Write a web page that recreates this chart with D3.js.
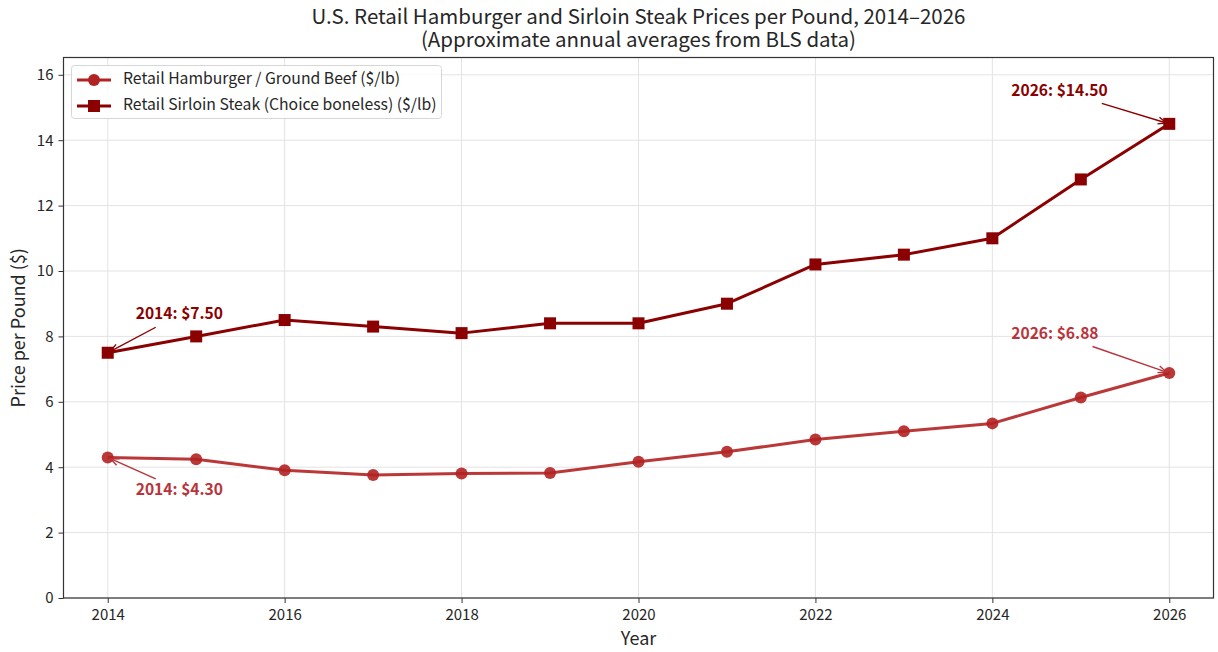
<!DOCTYPE html>
<html><head><meta charset="utf-8">
<script src="https://cdn.jsdelivr.net/npm/d3@7"></script>
<style>
body{margin:0;background:#fff;}
svg{display:block;font-family:"Noto Sans CJK JP","Noto Sans",sans-serif;}
</style></head>
<body><svg id="c" width="1218" height="652"></svg>
<script>
const years = [2014,2015,2016,2017,2018,2019,2020,2021,2022,2023,2024,2025,2026];
const hamburger = [4.30,4.24,3.91,3.76,3.81,3.82,4.17,4.47,4.85,5.10,5.34,6.13,6.88];
const sirloin = [7.50,8.00,8.50,8.30,8.10,8.40,8.40,9.00,10.20,10.50,11.00,12.80,14.50];
const xTicks = [2014,2016,2018,2020,2022,2024,2026];
const yTicks = [0,2,4,6,8,10,12,14,16];
const seriesNames = ["Retail Hamburger / Ground Beef ($/lb)","Retail Sirloin Steak (Choice boneless) ($/lb)"];
const titleLines = ["U.S. Retail Hamburger and Sirloin Steak Prices per Pound, 2014\u20132026","(Approximate annual averages from BLS data)"];
const annotations = [
  {series:1, i:0, label:"2014: $7.50", dx:28, dy:-38},
  {series:0, i:0, label:"2014: $4.30", dx:28, dy:33},
  {series:1, i:12, label:"2026: $14.50", dx:-158, dy:-32},
  {series:0, i:12, label:"2026: $6.88", dx:-158, dy:-38}
];
const colors = ["#b22222","#8b0000"];

const svg = d3.select("#c");
const L=63.5, R=1213.5, T=57.5, B=598;
const x = d3.scaleLinear().domain([2013.5,2026.5]).range([L,R]);
const y = d3.scaleLinear().domain([0,16.5]).range([B,B-16.5*32.7]);

// grid
svg.append("g").selectAll("line").data(xTicks).join("line")
  .attr("x1",d=>x(d)).attr("x2",d=>x(d)).attr("y1",T).attr("y2",B)
  .attr("stroke","#e3e3e3").attr("stroke-width",1);
svg.append("g").selectAll("line").data(yTicks).join("line")
  .attr("x1",L).attr("x2",R).attr("y1",d=>y(d)).attr("y2",d=>y(d))
  .attr("stroke","#e3e3e3").attr("stroke-width",1);

// axes
const gx = svg.append("g").attr("transform",`translate(0,${B})`)
  .call(d3.axisBottom(x).tickValues(xTicks).tickFormat(d3.format("d")).tickSize(5).tickPadding(6));
const gy = svg.append("g").attr("transform",`translate(${L},0)`)
  .call(d3.axisLeft(y).tickValues(yTicks).tickSize(5).tickPadding(5));
[gx,gy].forEach(g=>{
  g.select(".domain").remove();
  g.selectAll("text").attr("font-size",15).attr("fill","#262626").attr("font-family","'Noto Sans CJK JP',sans-serif");
  g.selectAll("line").attr("stroke","#333");
});
svg.append("rect").attr("x",L).attr("y",T).attr("width",R-L).attr("height",B-T)
  .attr("fill","none").attr("stroke","#333").attr("stroke-width",1.2);

// lines
const data = [hamburger, sirloin];
const line = d3.line().x((d,i)=>x(years[i])).y(d=>y(d));
data.forEach((vals,s)=>{
  svg.append("path").datum(vals).attr("d",line).attr("fill","none")
    .attr("stroke",colors[s]).attr("stroke-width",3).attr("stroke-linejoin","round")
    .attr("opacity", s===0?0.9:1);
});
// markers
svg.append("g").selectAll("circle").data(hamburger).join("circle")
  .attr("cx",(d,i)=>x(years[i])).attr("cy",d=>y(d)).attr("r",6)
  .attr("fill",colors[0]).attr("opacity",0.9);
svg.append("g").selectAll("rect").data(sirloin).join("rect")
  .attr("x",(d,i)=>x(years[i])-6).attr("y",d=>y(d)-6).attr("width",12).attr("height",12)
  .attr("fill",colors[1]);

// annotations
annotations.forEach(a=>{
  const vals = data[a.series];
  const px = x(years[a.i]), py = y(vals[a.i]);
  const c = a.series===0 ? "#b8343c" : "#8b0000";
  const tx = px + a.dx, ty = py + a.dy;
  const t = svg.append("text").attr("x",tx).attr("y",ty).attr("text-anchor","start")
    .attr("font-size",15.6).attr("font-weight","bold").attr("fill",c)
    .attr("dominant-baseline","middle").text(a.label);
  const bb = t.node().getBBox();
  let sx, sy;
  if (a.i===0){ sx = tx + 20; sy = a.dy<0 ? ty+12.5 : ty-11.5; }
  else { sx = bb.x + bb.width - 6; sy = ty + 11.5; }
  const ang = Math.atan2(py-sy, px-sx);
  const ex = px - Math.cos(ang)*3, ey = py - Math.sin(ang)*3;
  svg.append("line").attr("x1",sx).attr("y1",sy).attr("x2",ex).attr("y2",ey)
    .attr("stroke",c).attr("stroke-width",1.4);
  const h=9, w=0.4;
  svg.append("path").attr("d",`M${ex-h*Math.cos(ang-w)},${ey-h*Math.sin(ang-w)}L${ex},${ey}L${ex-h*Math.cos(ang+w)},${ey-h*Math.sin(ang+w)}`)
    .attr("fill","none").attr("stroke",c).attr("stroke-width",1.4);
});

// legend
const lg = svg.append("g");
lg.append("rect").attr("x",71.5).attr("y",65.5).attr("width",370).attr("height",53).attr("rx",3)
  .attr("fill","#fff").attr("fill-opacity",0.85).attr("stroke","#d6d6d6");
seriesNames.forEach((n,s)=>{
  const cy = 80 + s*26;
  lg.append("line").attr("x1",77).attr("x2",111).attr("y1",cy).attr("y2",cy)
    .attr("stroke",colors[s]).attr("stroke-width",3);
  if(s===0) lg.append("circle").attr("cx",94).attr("cy",cy).attr("r",6).attr("fill",colors[0]);
  else lg.append("rect").attr("x",88).attr("y",cy-6).attr("width",12).attr("height",12).attr("fill",colors[1]);
  lg.append("text").attr("x",123).attr("y",cy).attr("dominant-baseline","middle")
    .attr("font-size",15.75).attr("fill","#262626").text(n);
});

// titles (one text element, two lines)
const title = svg.append("text").attr("text-anchor","middle").attr("font-size",20.5).attr("fill","#262626");
titleLines.forEach((t,i)=>{
  title.append("tspan").attr("x",(L+R)/2).attr("y",24 + i*23).text(t);
});
svg.append("text").attr("x",(L+R)/2).attr("y",640).attr("text-anchor","middle")
  .attr("dominant-baseline","middle").attr("font-size",18).attr("fill","#262626").text("Year");
svg.append("text").attr("transform",`translate(20,${(T+B)/2}) rotate(-90)`).attr("text-anchor","middle")
  .attr("dominant-baseline","middle").attr("font-size",18).attr("fill","#262626").text("Price per Pound ($)");
</script></body></html>
